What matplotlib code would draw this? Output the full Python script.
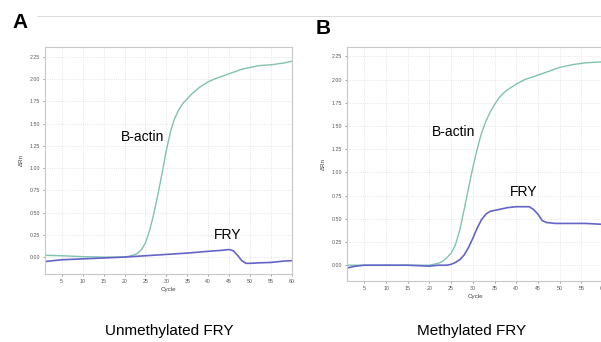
import numpy as np
import matplotlib.pyplot as plt
from matplotlib.lines import Line2D

plt.rcParams['font.family'] = ['Liberation Sans', 'DejaVu Sans']

# Panel A: unmethylated FRY
cyc_a_actin = [1, 5, 10, 15, 20, 21, 22, 23, 24, 25, 26, 27, 28, 29, 29.5, 30,
               30.5, 31, 31.5, 32, 33, 34, 35, 36, 37, 38, 40, 42, 45, 48, 50,
               52, 55, 58, 60]
val_a_actin = [0.02, 0.015, 0.005, 0.0, 0.0, 0.01, 0.02, 0.04, 0.08, 0.16, 0.3,
               0.49, 0.71, 0.95, 1.08, 1.2, 1.31, 1.41, 1.49, 1.56, 1.66, 1.73,
               1.78, 1.83, 1.87, 1.91, 1.97, 2.01, 2.06, 2.11, 2.13, 2.15, 2.16,
               2.18, 2.2]
cyc_a_fry = [1, 5, 10, 15, 20, 25, 30, 35, 40, 43, 45, 46, 47, 48, 49, 50, 52, 55,
             58, 60]
val_a_fry = [-0.05, -0.03, -0.02, -0.01, 0.0, 0.015, 0.03, 0.045, 0.065, 0.075,
             0.085, 0.07, 0.02, -0.04, -0.07, -0.07, -0.065, -0.06, -0.045, -0.04]

# Panel B: methylated FRY
cyc_b_actin = [1, 5, 10, 15, 20, 21, 22, 23, 24, 25, 26, 27, 28, 29, 30, 30.5,
               31, 31.5, 32, 33, 34, 35, 36, 37, 38, 40, 42, 44, 47, 50, 53, 56,
               60]
val_b_actin = [0.0, 0.0, 0.0, 0.0, 0.0, 0.01, 0.02, 0.04, 0.08, 0.13, 0.22, 0.38,
               0.6, 0.83, 1.05, 1.15, 1.25, 1.34, 1.42, 1.55, 1.65, 1.73, 1.8,
               1.85, 1.89, 1.95, 2.0, 2.03, 2.08, 2.13, 2.16, 2.18, 2.19]
cyc_b_fry = [1, 3, 5, 10, 15, 20, 22, 24, 25, 26, 27, 28, 29, 30, 31, 32, 33, 34,
             36, 38, 40, 43, 44, 45, 46, 47, 49, 52, 56, 60]
val_b_fry = [-0.03, -0.01, 0.0, 0.0, 0.0, -0.01, 0.0, 0.0, 0.01, 0.03, 0.06, 0.11,
             0.19, 0.29, 0.4, 0.49, 0.55, 0.58, 0.6, 0.62, 0.63, 0.63, 0.6, 0.55,
             0.48, 0.46, 0.45, 0.45, 0.45, 0.44]

y_ticks = [0.0, 0.25, 0.5, 0.75, 1.0, 1.25, 1.5, 1.75, 2.0, 2.25]
x_ticks = list(range(5, 61, 5))

green = '#80c2ae'
purple = '#6464c8'

fig = plt.figure(figsize=(6.01, 3.42), dpi=100)

ax1 = fig.add_axes([45/601, 1-274/342, 247/601, 227/342])
ax2 = fig.add_axes([347/601, 1-281/342, 256/601, 234/342])


def style(ax, ylim):
    ax.set_xlim(1, 60)
    ax.set_ylim(*ylim)
    ax.set_xticks(x_ticks)
    ax.set_yticks(y_ticks)
    ax.set_yticklabels(['%.2f' % v for v in y_ticks])
    ax.tick_params(labelsize=3.8, colors='#555555', length=1.5, width=0.4, pad=2)
    ax.grid(True, color='#dddddd', linestyle=':', linewidth=0.6)
    for s in ax.spines.values():
        s.set_color('#c8c8c8')
        s.set_linewidth(0.8)
    ax.set_xlabel('Cycle', fontsize=4.5, color='#444444', labelpad=2)
    ax.set_ylabel('ΔRn', fontsize=4.5, color='#444444', labelpad=4)


ax1.plot(cyc_a_actin, val_a_actin, color=green, lw=1.0)
ax1.plot(cyc_a_fry, val_a_fry, color=purple, lw=1.2)
style(ax1, (-0.19, 2.36))
ax1.text(24.2, 1.35, 'B-actin', fontsize=10, ha='center', va='center')
ax1.text(44.7, 0.25, 'FRY', fontsize=10, ha='center', va='center')

ax2.plot(cyc_b_actin, val_b_actin, color=green, lw=1.0)
ax2.plot(cyc_b_fry, val_b_fry, color=purple, lw=1.2)
style(ax2, (-0.17, 2.35))
ax2.text(25.6, 1.43, 'B-actin', fontsize=10, ha='center', va='center')
ax2.text(41.7, 0.79, 'FRY', fontsize=10, ha='center', va='center')

fig.text(20/601, 1-22/342, 'A', fontsize=15, fontweight='bold', ha='center', va='center')
fig.text(323/601, 1-29/342, 'B', fontsize=15, fontweight='bold', ha='center', va='center')
fig.add_artist(Line2D([37/601, 1], [1-16/342, 1-16/342], color='#dddddd', lw=0.8))

fig.text(169/601, 1-331/342, 'Unmethylated FRY', fontsize=11, ha='center', va='center')
fig.text(472/601, 1-331/342, 'Methylated FRY', fontsize=11, ha='center', va='center')

plt.savefig('out.png', dpi=100)
